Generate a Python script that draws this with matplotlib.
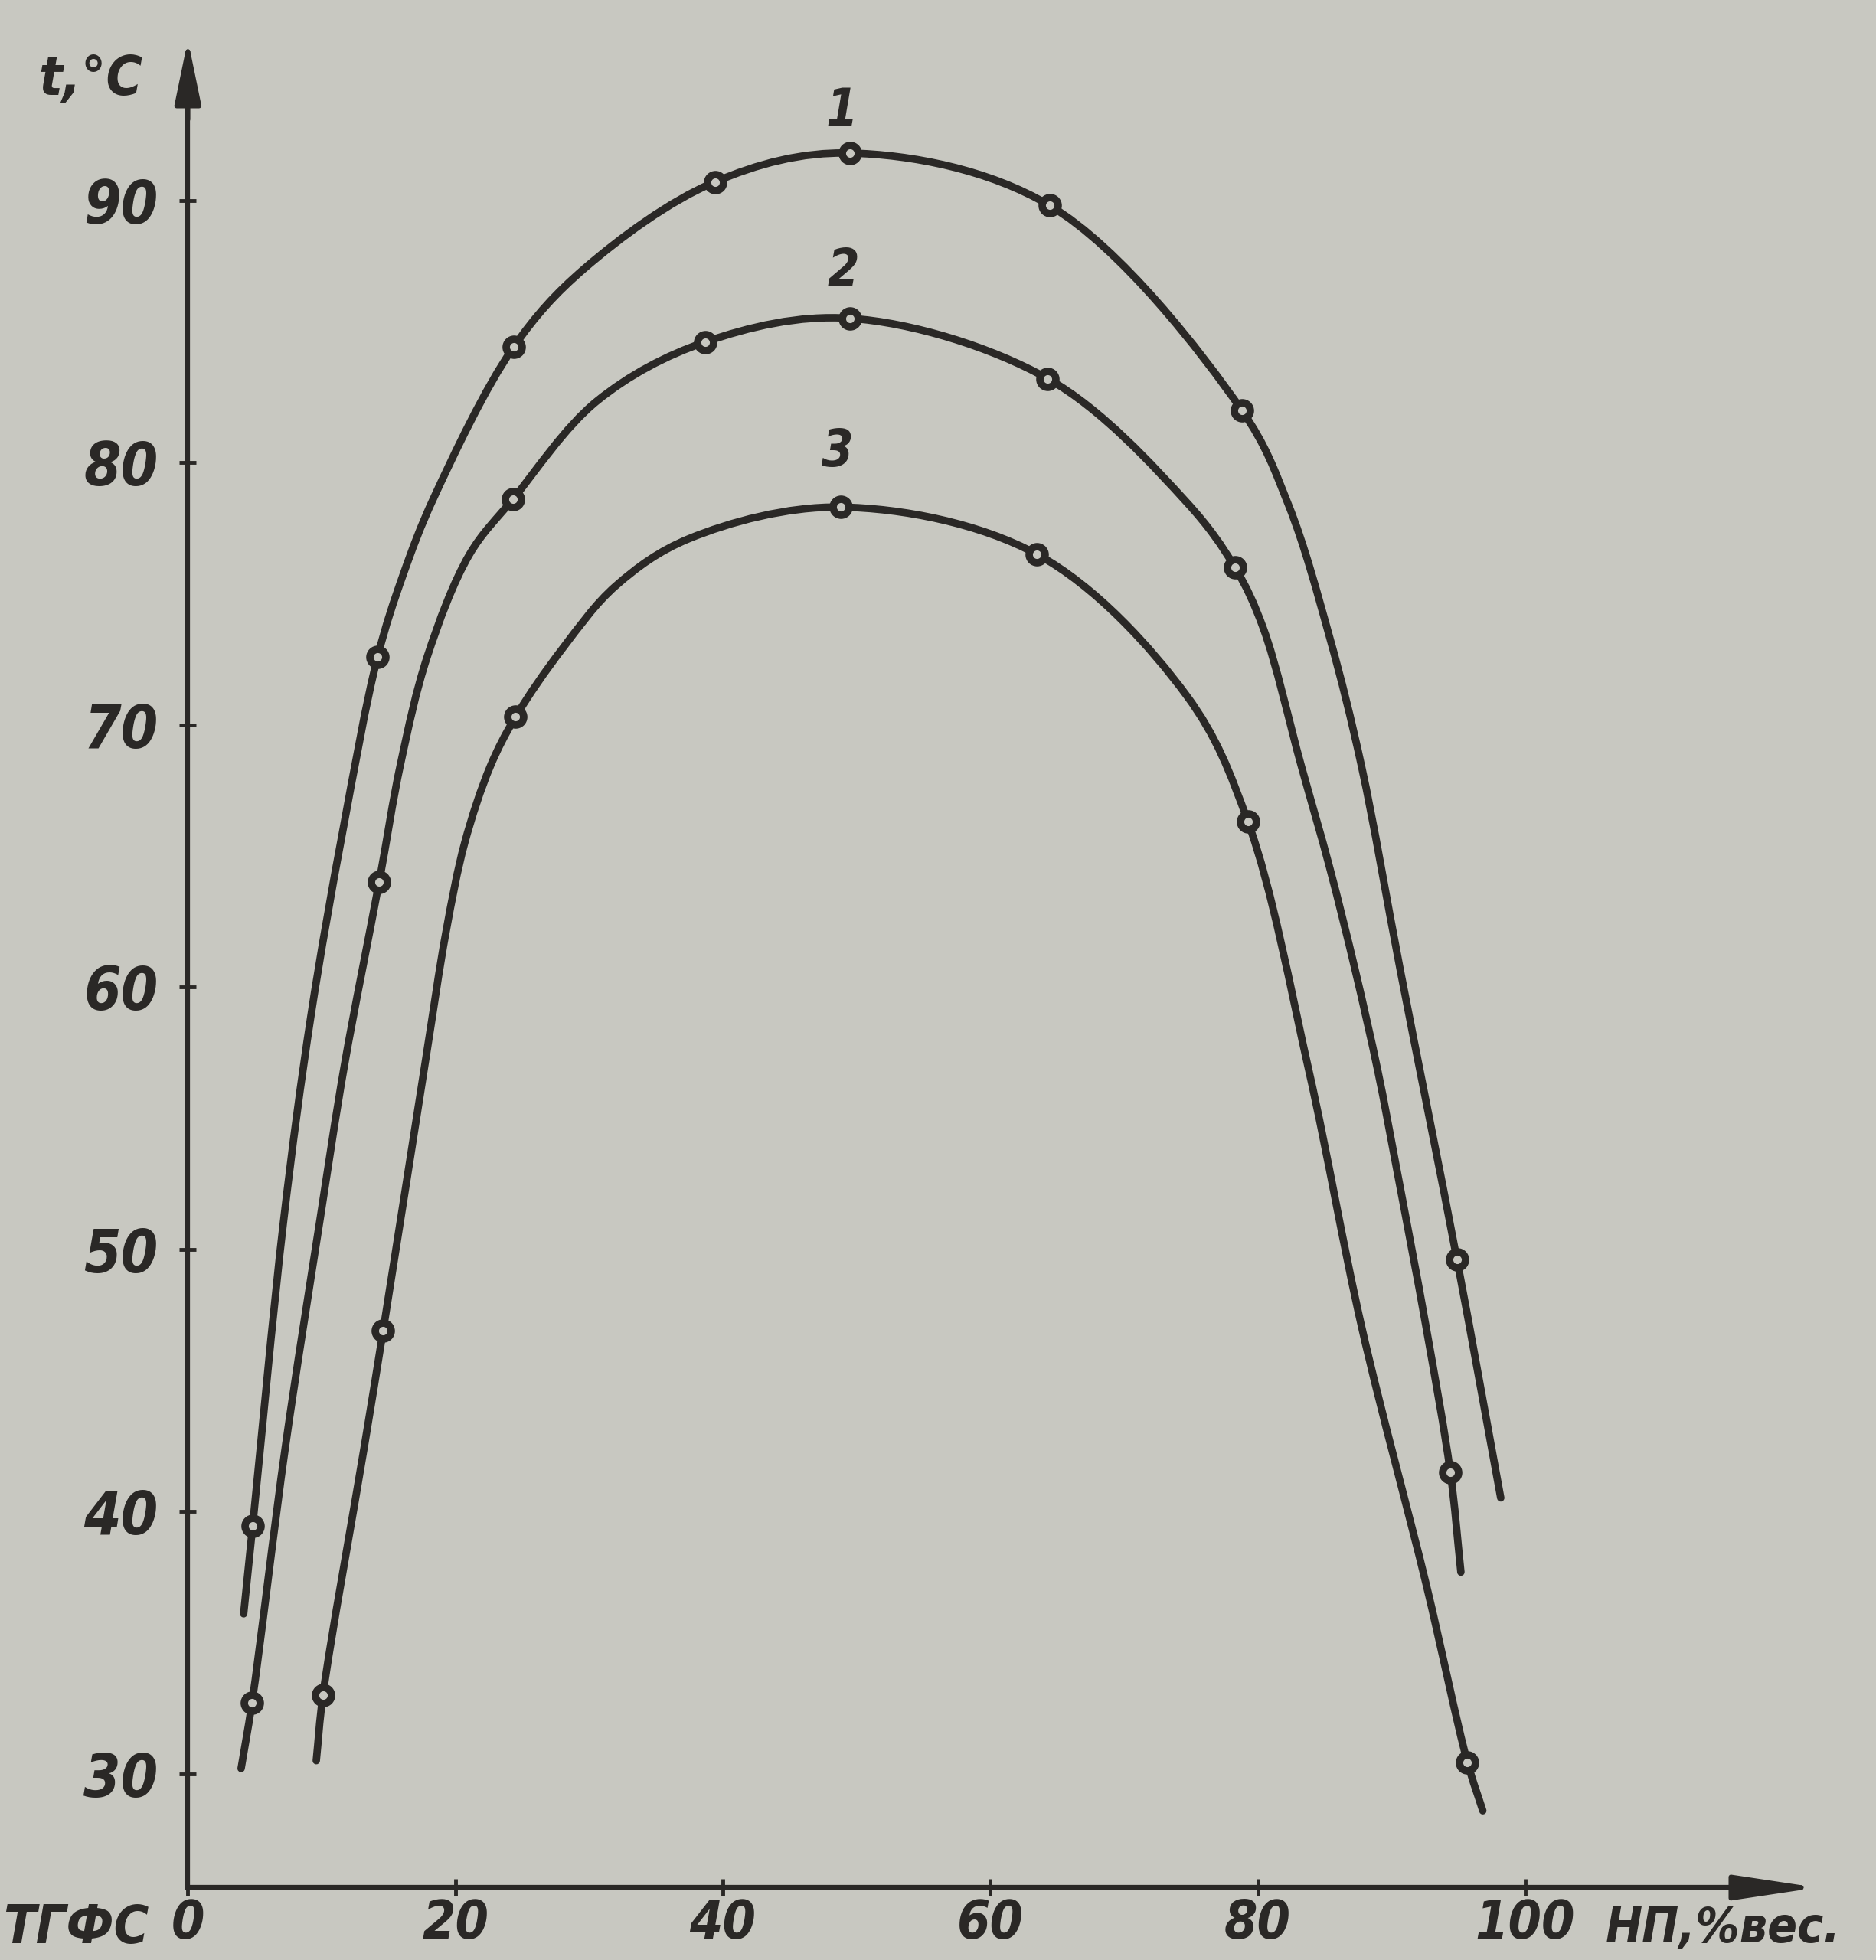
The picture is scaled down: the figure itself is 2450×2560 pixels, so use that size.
import matplotlib.pyplot as plt
import numpy as np
from matplotlib.path import Path
from matplotlib.patches import PathPatch

# points (x = НП, % вес., y = t, °C)
c1_x = [4.17, 4.84, 7.16, 9.2, 11.6, 14.19, 16.1, 18.39, 24.35, 29.65, 39.4,
        49.5, 64.45, 78.8, 82.31, 85.39, 87.75, 90.66, 94.9, 98.17]
c1_y = [36.1, 39.44, 51.1, 58.9, 66.0, 72.6, 75.73, 78.66, 84.4, 87.4, 90.7,
        91.8, 89.8, 82.0, 78.37, 73.31, 68.44, 60.64, 49.6, 40.52]
c2_x = [3.98, 4.79, 7.3, 9.87, 11.7, 14.3, 15.9, 17.9, 21.06, 24.3, 30.6, 38.7,
        49.5, 64.3, 74.71, 78.3, 80.41, 83.25, 85.38, 87.29, 89.0, 90.32, 92.61,
        94.4, 95.19]
c2_y = [30.2, 32.7, 42.5, 51.1, 57.0, 64.0, 68.5, 72.6, 76.5, 78.6, 82.35, 84.6,
        85.5, 83.2, 78.47, 76.0, 73.69, 68.44, 64.55, 60.64, 56.75, 53.25, 46.97,
        41.5, 37.69]
c3_x = [9.6, 10.1, 13.2, 14.6, 17.8, 19.3, 20.7, 22.6, 24.5, 28.0, 32.0, 37.48,
        48.8, 63.5, 74.7, 79.27, 83.85, 87.8, 92.61, 95.68, 96.83]
c3_y = [30.5, 33.0, 42.5, 46.9, 57.3, 62.1, 65.5, 68.4, 70.3, 72.9, 75.3, 77.1,
        78.3, 76.5, 71.1, 66.3, 56.75, 46.97, 37.19, 30.44, 28.59]

# measured points (open circles)
m1_x = [4.84, 14.19, 24.35, 39.4, 49.5, 64.45, 78.8, 94.9]
m1_y = [39.44, 72.6, 84.4, 90.7, 91.8, 89.8, 82.0, 49.6]
m2_x = [4.79, 14.3, 24.3, 38.7, 49.5, 64.3, 78.3, 94.4]
m2_y = [32.7, 64.0, 78.6, 84.6, 85.5, 83.2, 76.0, 41.5]
m3_x = [10.1, 14.6, 24.5, 48.8, 63.5, 79.27, 95.68]
m3_y = [33.0, 46.9, 70.3, 78.3, 76.5, 66.3, 30.44]

curve_labels = ['1', '2', '3']
label_x = [48.9, 49.0, 48.6]
label_y = [93.4, 87.3, 80.4]

xticks = [0, 20, 40, 60, 80, 100]
yticks = [30, 40, 50, 60, 70, 80, 90]

paper = '#c8c8c1'
ink = '#2a2826'
fnt = ['DejaVu Sans']


def smooth_path(xs, ys, sx=10.7, sy=20.98):
    # centripetal Catmull-Rom through the traced points, as cubic Bezier pieces
    p = np.column_stack([np.asarray(xs) * sx, np.asarray(ys) * sy])
    p = np.vstack([2 * p[0] - p[1], p, 2 * p[-1] - p[-2]])
    verts = [p[1]]
    codes = [Path.MOVETO]
    for i in range(1, len(p) - 2):
        p0, p1, p2, p3 = p[i - 1], p[i], p[i + 1], p[i + 2]
        d01 = np.linalg.norm(p1 - p0) ** 0.5
        d12 = np.linalg.norm(p2 - p1) ** 0.5
        d23 = np.linalg.norm(p3 - p2) ** 0.5
        m1 = ((p1 - p0) / d01 - (p2 - p0) / (d01 + d12) + (p2 - p1) / d12) * d12
        m2 = ((p2 - p1) / d12 - (p3 - p1) / (d12 + d23) + (p3 - p2) / d23) * d12
        verts += [p1 + m1 / 3, p2 - m2 / 3, p2]
        codes += [Path.CURVE4] * 3
    verts = np.array(verts) / [sx, sy]
    return Path(verts, codes)


fig = plt.figure(figsize=(24.5, 25.6), dpi=100, facecolor=paper)
ax = fig.add_axes([0.0859, 0.01475, 0.8982, 0.9834])
ax.set_facecolor(paper)
ax.set_xlim(-2, 124)
ax.set_ylim(24, 97.5)

x_base = 25.66
for s in ['top', 'right']:
    ax.spines[s].set_visible(False)
ax.spines['left'].set_position(('data', 0))
ax.spines['left'].set_bounds(x_base, 94)
ax.spines['bottom'].set_position(('data', x_base))
ax.spines['bottom'].set_bounds(0, 116)
for s in ['left', 'bottom']:
    ax.spines[s].set_linewidth(4.5)
    ax.spines[s].set_color(ink)
ax.annotate('', xy=(0, 96.2), xytext=(0, 93.0),
            arrowprops=dict(arrowstyle='-|>,head_length=1.7,head_width=0.35',
                            color=ink, lw=4.5, mutation_scale=30))
ax.annotate('', xy=(122, x_base), xytext=(114, x_base),
            arrowprops=dict(arrowstyle='-|>,head_length=2.2,head_width=0.33',
                            color=ink, lw=4.5, mutation_scale=30))

ax.set_xticks(xticks)
ax.set_xticklabels([str(v) for v in xticks])
ax.set_yticks(yticks)
ax.set_yticklabels([str(v) for v in yticks])
ax.tick_params(direction='inout', length=16, width=3.5, color=ink,
               labelcolor=ink)
ax.tick_params(axis='y', pad=20, labelsize=56)
ax.tick_params(axis='x', pad=2, labelsize=50)
for lab in ax.get_xticklabels() + ax.get_yticklabels():
    lab.set_family(fnt)
    lab.set_fontweight('bold')
    lab.set_fontstyle('italic')
    lab.set_fontstretch('condensed')

for cx, cy in [(c1_x, c1_y), (c2_x, c2_y), (c3_x, c3_y)]:
    ax.add_patch(PathPatch(smooth_path(cx, cy), fill=False, lw=7, ec=ink,
                           capstyle='round', joinstyle='round', zorder=2))
for mx, my in [(m1_x, m1_y), (m2_x, m2_y), (m3_x, m3_y)]:
    ax.plot(mx, my, 'o', ms=15, mfc=paper, mec=ink, mew=7, zorder=3)

txt = dict(color=ink, family=fnt, fontweight='bold', fontstyle='italic',
           fontstretch='condensed')
for t, lx, ly in zip(curve_labels, label_x, label_y):
    ax.text(lx, ly, t, fontsize=48, ha='center', va='center', **txt)

ax.text(-7.3, 94.6, 't,°C', fontsize=52, ha='center', va='center', **txt)
ax.text(-13.8, 24.1, 'ТГФС', fontsize=50, ha='left', va='center', **txt)
ax.text(106.0, 24.1, 'НП,%вес.', fontsize=46, ha='left', va='center', **txt)

fig.savefig('out.png', dpi=100, facecolor=paper)
